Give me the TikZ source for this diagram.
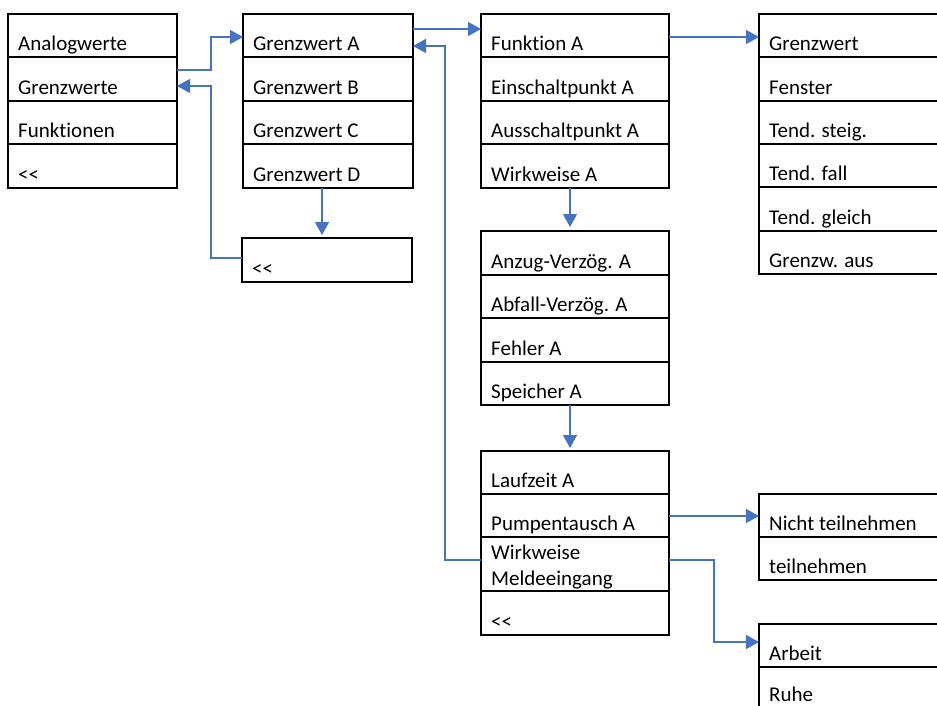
\documentclass[tikz,border=0pt]{standalone}
\usepackage{fontspec}
\setmainfont{Carlito}[Ligatures={TeXOff,NoCommon}]
\usetikzlibrary{arrows.meta}
\definecolor{conblue}{RGB}{68,114,196}
\tikzset{
  rowbox/.style={draw=black, line width=2pt, inner sep=0pt, outer sep=0pt, anchor=north west},
  rowtext/.style={anchor=base west, inner sep=0pt, font=\fontsize{21}{25}\selectfont, text=black},
  conn/.style={draw=conblue, line width=1.3pt, -{Triangle[length=13pt,width=14pt]}}
}
\newcommand\rowcell[6]{%
  \node[rowbox, minimum width=#4pt, minimum height=#5pt] (#1) at (#2,#3) {};
  \node[rowtext] (#1t) at ([xshift=10pt,yshift=6.5pt]#1.south west) {#6};
}
\begin{document}
\begin{tikzpicture}[x=1pt,y=-1pt]
\useasboundingbox (0,0) rectangle (937,706);
\clip (0,0) rectangle (937,706);
% box 1
\rowcell{b1r1}{8}{14}{169}{43.5}{Analogwerte}
\rowcell{b1r2}{8}{57.5}{169}{43.5}{Grenzwerte}
\rowcell{b1r3}{8}{101}{169}{43.5}{Funktionen}
\rowcell{b1r4}{8}{144.5}{169}{43.5}{<<}
% box 2
\rowcell{b2r1}{243}{14}{170}{43.5}{Grenzwert A}
\rowcell{b2r2}{243}{57.5}{170}{43.5}{Grenzwert B}
\rowcell{b2r3}{243}{101}{170}{43.5}{Grenzwert C}
\rowcell{b2r4}{243}{144.5}{170}{43.5}{Grenzwert D}
\rowcell{b2x}{242}{238}{170}{44}{<<}
% box 3
\rowcell{b3r1}{481}{14}{188}{43.5}{Funktion A}
\rowcell{b3r2}{481}{57.5}{188}{43.5}{Einschaltpunkt A}
\rowcell{b3r3}{481}{101}{188}{43.5}{Ausschaltpunkt A}
\rowcell{b3r4}{481}{144.5}{188}{43.5}{Wirkweise A}
% box 4
\rowcell{b4r1}{759}{14}{200}{43.33}{Grenzwert}
\rowcell{b4r2}{759}{57.33}{200}{43.33}{Fenster}
\rowcell{b4r3}{759}{100.67}{200}{43.33}{Tend. steig.}
\rowcell{b4r4}{759}{144}{200}{43.33}{Tend. fall}
\rowcell{b4r5}{759}{187.33}{200}{43.33}{Tend. gleich}
\rowcell{b4r6}{759}{230.67}{200}{43.33}{Grenzw. aus}
% box 5
\rowcell{b5r1}{481}{231}{188}{43.5}{Anzug-Verzög. A}
\rowcell{b5r2}{481}{274.5}{188}{43.5}{Abfall-Verzög. A}
\rowcell{b5r3}{481}{318}{188}{43.5}{Fehler A}
\rowcell{b5r4}{481}{361.5}{188}{43.5}{Speicher A}
% box 6
\rowcell{b6r1}{481}{451}{188}{43}{Laufzeit A}
\rowcell{b6r2}{481}{494}{188}{43}{Pumpentausch A}
\node[rowbox, minimum width=188pt, minimum height=54pt] (b6r3) at (481,537) {};
\node[rowtext] (b6r3t) at ([xshift=10pt,yshift=32pt]b6r3.south west) {Wirkweise};
\node[rowtext] (b6r3u) at ([xshift=10pt,yshift=6pt]b6r3.south west) {Meldeeingang};
\rowcell{b6r4}{481}{591}{188}{44}{<<}
% box 7
\rowcell{b7r1}{759}{494}{200}{43}{Nicht teilnehmen}
\rowcell{b7r2}{759}{537}{200}{43}{teilnehmen}
% box 8
\rowcell{b8r1}{759}{624}{200}{43}{Arbeit}
\node[rowbox, minimum width=200pt, minimum height=43pt] (b8r2) at (759,667) {};
\node[rowtext] (b8r2t) at ([xshift=10pt,yshift=9pt]b8r2.south west) {Ruhe};
% connectors
\draw[conn] (b1r2.east |- 0,70) -| (211,37) -- (b2r1.west |- 0,37);
\draw[conn] (b2x.west |- 0,258) -| (211,86) -- (b1r2.east |- 0,86);
\draw[conn, shorten >=3pt] (b2r4.south -| 322,0) -- (b2x.north -| 322,0);
\draw[conn] (b2r1.east |- 0,29) -- (b3r1.west |- 0,29);
\draw[conn] (b6r3.west |- 0,560) -| (445,46) -- (b2r1.east |- 0,46);
\draw[conn] (b3r1.east |- 0,37) -- (b4r1.west |- 0,37);
\draw[conn, shorten >=4pt] (b3r4.south -| 570,0) -- (b5r1.north -| 570,0);
\draw[conn, shorten >=3pt] (b5r4.south -| 570,0) -- (b6r1.north -| 570,0);
\draw[conn] (b6r2.east |- 0,516) -- (b7r1.west |- 0,516);
\draw[conn] (b6r3.east |- 0,560) -| (714,642) -- (b8r1.west |- 0,642);
\end{tikzpicture}
\end{document}
